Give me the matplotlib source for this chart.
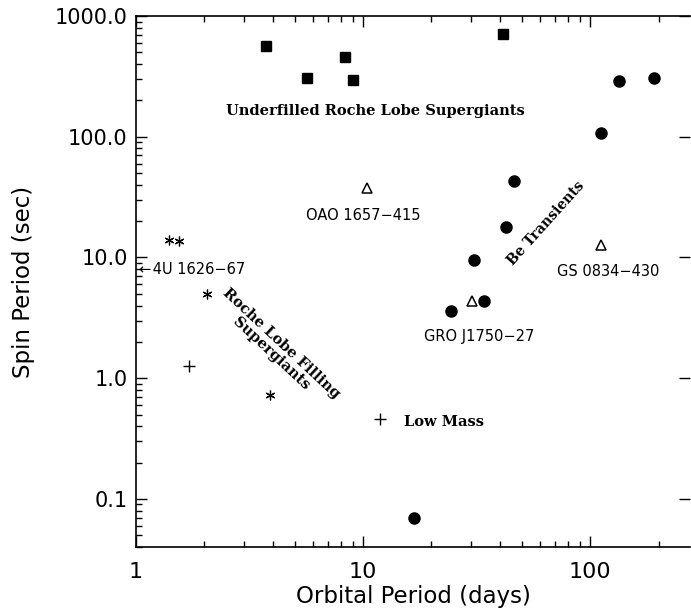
import numpy as np
import matplotlib
matplotlib.use("Agg")
import matplotlib.pyplot as plt
from matplotlib.ticker import FixedLocator, FixedFormatter, LogLocator, NullFormatter

# Datos (periodo orbital en dias, periodo de giro en s)
sg_under_porb = [3.73, 5.67, 8.33, 9.03, 41.4]
sg_under_pspin = [562, 309, 455, 293, 708]

be_porb = [134, 190, 112, 46.3, 42.7, 30.8, 34.1, 24.4, 16.8]
be_pspin = [287, 304, 108, 43, 17.8, 9.44, 4.38, 3.61, 0.0695]

open_porb = [10.4, 112, 30.2]
open_pspin = [37.6, 12.6, 4.38]

rlof_porb = [1.40, 1.55, 2.05, 3.89]
rlof_pspin = [13.9, 13.6, 5.0, 0.72]

lowmass_porb = [1.71, 11.9]
lowmass_pspin = [1.26, 0.46]

ytick_vals = [0.1, 1.0, 10.0, 100.0, 1000.0]
ytick_labels = ["0.1", "1.0", "10.0", "100.0", "1000.0"]
xtick_vals = [1, 10, 100]
xtick_labels = ["1", "10", "100"]

fig = plt.figure(figsize=(6.91, 6.13), dpi=100)
ax = fig.add_axes([136 / 691, 1 - 547 / 613, (690 - 136) / 691, (547 - 16) / 613])

ax.set_xscale("log")
ax.set_yscale("log")
ax.set_xlim(1, 275)
ax.set_ylim(0.04, 1000)

ax.plot(sg_under_porb, sg_under_pspin, "s", color="black", ms=7.5, ls="none")
ax.plot(be_porb, be_pspin, "o", color="black", ms=8, ls="none")
ax.plot(open_porb, open_pspin, "^", mfc="white", mec="black", mew=1.1, ms=7, ls="none")
ax.plot(rlof_porb, rlof_pspin, marker=(6, 2, 0), color="black", mew=0.9, ms=7, ls="none")
ax.plot(lowmass_porb, lowmass_pspin, "+", color="black", mew=1.0, ms=8, ls="none")

# Ejes y marcas
ax.yaxis.set_major_locator(FixedLocator(ytick_vals))
ax.yaxis.set_major_formatter(FixedFormatter(ytick_labels))
ax.xaxis.set_major_locator(FixedLocator(xtick_vals))
ax.xaxis.set_major_formatter(FixedFormatter(xtick_labels))
ax.xaxis.set_minor_locator(LogLocator(base=10, subs=np.arange(2, 10)))
ax.yaxis.set_minor_locator(LogLocator(base=10, subs=np.arange(2, 10)))
ax.xaxis.set_minor_formatter(NullFormatter())
ax.yaxis.set_minor_formatter(NullFormatter())
ax.tick_params(which="both", direction="in", top=True, right=True, width=1.0, color="black")
ax.tick_params(which="minor", right=False)
ax.tick_params(which="major", length=8)
ax.tick_params(which="minor", length=4)
ax.tick_params(axis="y", which="major", labelsize=15, pad=6)
ax.tick_params(axis="x", which="major", labelsize=16, pad=11)
ax.spines["right"].set_visible(False)
for s in ["left", "top", "bottom"]:
    ax.spines[s].set_linewidth(1.2)

ax.set_xlabel("Orbital Period (days)", fontsize=16.5, labelpad=2)
ax.set_ylabel("Spin Period (sec)", fontsize=16.5, labelpad=14)

# Etiquetas dentro de la grafica
serif = dict(family="DejaVu Serif", fontweight="bold", fontsize=10.5)
sans = dict(family="DejaVu Sans", fontsize=10.5)

ax.text(11.3, 162, "Underfilled Roche Lobe Supergiants", ha="center", va="center", **serif)
ax.text(10.0, 22.4, "OAO 1657\u2212415", ha="center", va="center", **sans)
ax.text(120, 7.64, "GS 0834\u2212430", ha="center", va="center", **sans)
ax.text(32.4, 2.2, "GRO J1750\u221227", ha="center", va="center", **sans)
ax.text(15.2, 0.43, "Low Mass", ha="left", va="center", **serif)
ax.text(64, 19.2, "Be Transients", ha="center", va="center", rotation=48, fontsize=10,
        family="DejaVu Serif", fontweight="bold")
ax.text(4.15, 1.75, "Roche Lobe Filling\nSupergiants", ha="center", va="center",
        rotation=-43, multialignment="center", linespacing=1.05, **serif)
ax.text(1.035, 7.94, "\u2190\u200a4U 1626\u221267", ha="left", va="center", **sans)

fig.savefig("out.png", dpi=100)
